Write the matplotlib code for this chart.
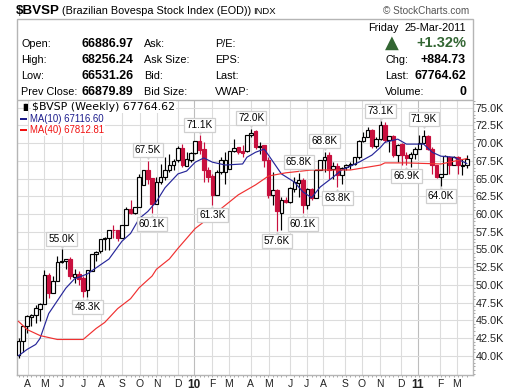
import matplotlib
matplotlib.use('Agg')
import matplotlib.pyplot as plt
from matplotlib.patches import Rectangle
from matplotlib.transforms import offset_copy

plt.rcParams['font.family'] = ['Liberation Sans', 'DejaVu Sans']

opens = [40.08,42.04,44.26,45.5,45.8,46.65,47.35,51.4,48.9,50.55,53.2,53.35,53.65,51.1,51.5,51.0,49.3,51.95,54.3,54.75,
         56.4,56.55,57.8,57.7,56.55,58.4,60.75,60.2,61.05,64.1,66.2,65.1,61.45,64.5,65.2,66.2,66.9,67.6,69.3,66.75,
         67.6,68.6,70.25,69.15,66.2,65.35,62.7,65.9,65.9,66.35,68.85,69.4,68.85,68.85,71.2,71.65,69.4,69.7,67.6,62.7,
         63.4,60.2,62.0,61.75,63.55,64.4,64.8,61.3,63.55,62.3,66.2,67.6,68.3,66.35,66.75,65.5,66.6,66.9,67.05,68.0,
         70.25,70.8,71.8,69.55,70.55,72.6,70.4,70.95,68.3,69.85,68.3,67.9,68.45,69.15,70.0,70.95,69.15,66.9,65.2,65.65,
         68.0,66.9,68.0,66.75,66.89]
closes = [42.04,44.26,45.67,45.8,46.8,47.35,51.4,48.9,50.55,53.2,53.35,53.65,51.25,51.5,50.85,49.15,52.1,54.3,54.6,56.4,
          56.55,57.8,57.7,56.55,58.4,60.75,60.2,61.05,65.2,66.2,64.95,61.45,64.5,65.2,66.2,66.9,67.45,69.3,66.9,67.75,
          68.6,70.25,69.0,66.2,65.2,62.7,65.9,67.6,67.6,68.85,69.3,68.7,68.6,71.2,71.35,69.4,69.55,67.6,62.7,63.4,
          60.35,62.0,61.75,63.7,64.5,64.8,61.3,63.55,62.3,66.2,67.6,68.0,66.2,66.75,65.5,66.5,66.9,67.05,68.0,70.25,
          70.8,71.8,69.55,70.55,72.5,70.4,70.95,68.3,69.7,68.3,67.9,68.45,69.15,70.0,70.95,69.15,66.9,65.2,65.65,68.15,
          66.9,68.0,66.9,66.9,67.76]
highs = [42.46,44.26,45.7,45.95,47.1,47.5,52.1,51.7,51.25,54.05,55.0,53.65,53.9,52.2,51.9,51.25,52.1,54.3,54.75,56.4,
         56.7,57.8,58.5,57.8,58.4,61.05,62.0,61.05,65.65,66.2,67.5,65.1,65.2,67.05,68.0,68.4,67.75,69.55,69.85,68.7,
         68.7,70.25,71.1,70.1,66.6,65.65,66.2,68.0,68.7,68.85,70.55,69.4,69.7,71.2,72.0,71.9,70.1,69.7,68.0,65.9,
         63.55,62.45,62.45,63.85,65.2,65.8,65.1,63.7,63.7,66.2,67.6,68.8,68.7,67.3,67.2,66.6,67.05,67.3,68.0,70.4,
         71.5,72.2,72.05,70.8,73.1,72.9,70.95,71.1,69.85,70.0,68.7,68.7,69.4,71.2,71.9,71.2,69.4,66.9,65.65,68.3,
         68.15,68.15,68.15,67.75,68.26]
lows = [39.66,40.5,43.28,44.26,44.56,44.85,47.35,48.2,48.9,50.55,53.05,52.2,50.85,50.3,50.0,48.3,48.3,51.95,53.35,54.45,
        54.9,54.9,56.55,56.15,56.55,58.4,60.05,60.05,61.05,64.1,64.25,60.1,61.45,64.25,64.8,65.9,66.2,67.3,66.6,66.75,
        67.3,68.45,68.45,64.55,64.55,61.3,62.7,65.65,64.25,66.35,68.7,68.45,68.0,68.7,70.8,69.15,68.45,66.6,62.3,61.3,
        57.6,57.8,61.6,61.6,63.1,62.45,60.1,60.75,62.0,62.3,66.2,65.9,64.95,64.95,63.8,64.25,66.2,66.35,66.9,67.75,
        70.1,70.8,69.3,69.3,70.4,70.1,68.7,68.0,67.3,66.9,66.9,66.6,67.75,69.15,70.0,69.0,65.65,65.1,64.0,65.65,
        65.65,66.9,65.65,65.5,66.53]

ma10_weeks = [0,2,4,5,7,11,13,16,18,21,24,26,28,30,32,34,37,39,41,43,45,48,52,53,55,57,58,61,64,66,68,70,73,75,79,82,84,85,88,90,94,96,98,101,104]
ma10_vals = [40.0,40.9,41.6,42.45,45.95,49.55,50.85,51.55,52.4,53.65,56.15,57.25,59.35,60.35,61.75,63.7,65.65,66.05,67.3,67.9,67.3,66.9,67.05,68.0,68.7,69.15,68.3,65.65,64.5,63.1,62.3,63.8,65.2,66.2,67.3,68.3,69.4,70.1,70.55,69.85,69.85,68.7,68.15,68.0,67.12]
ma40_weeks = [0,2,5,9,15,18,20,23,26,28,31,32,35,37,41,47,51,55,58,62,68,73,77,84,85,90,98,104]
ma40_vals = [44.85,43.7,42.85,42.3,42.3,43.85,44.7,46.65,48.05,49.6,51.25,52.2,53.65,55.15,57.95,60.75,62.7,64.1,65.35,65.8,66.2,66.2,66.2,66.9,67.2,67.2,67.05,67.81]

month_pos = [2.09,6.03,9.98,15.08,19.14,24.0,28.1,32.1,37.0,40.7,44.9,48.8,53.9,58.1,63.0,66.9,70.7,75.8,79.7,83.9,88.8,92.7,97.8,101.7]
month_labels = ['A','M','J','J','A','S','O','N','D','10','F','M','A','M','J','J','A','S','O','N','D','11','F','M']
price_ticks = [40+2.5*k for k in range(15)]

peak_weeks = [10,30,42,54,65,71,84,94]
peak_vals = [55.0,67.5,71.1,72.0,65.8,68.8,73.1,71.9]
trough_weeks = [16,31,45,60,66,74,90,98]
trough_vals = [48.3,60.1,61.3,57.6,60.1,63.8,66.9,64.0]

fig = plt.figure(figsize=(5.2,3.91), dpi=100, facecolor='white')
W,H = 520,391
def px(x,y): return x/W, 1-y/H
L,R,T,B = 16.5,472.5,100.5,374.5
ax = fig.add_axes([L/W, 1-B/H, (R-L)/W, (B-T)/H])
ax.set_xlim((L-18.5)/4.31,(R-18.5)/4.31)
ax.set_ylim(75-(B-105)/7.16, 75-(T-105)/7.16)

GRID='#dcdcdc'
ax.set_axisbelow(True)
for p,l in zip(month_pos,month_labels):
    ax.axvline(p,color='#bdbdbd' if l.isdigit() else GRID,lw=0.8,zorder=0)
for v in price_ticks:
    ax.axhline(v,color=GRID,lw=0.8,zorder=0)

RED='#c8103e'
BW=0.82
for i,(o,c,h,l) in enumerate(zip(opens,closes,highs,lows)):
    up = c>=o
    col = 'black' if up else RED
    ax.plot([i,i],[l,h],color=col,lw=0.85,solid_capstyle='butt',zorder=3)
    ax.add_patch(Rectangle((i-BW/2,min(o,c)),BW,abs(c-o),
                           facecolor='white' if up else RED,edgecolor=col,lw=0.85,zorder=4))
ax.plot(ma10_weeks,ma10_vals,color='#26269a',lw=0.85,zorder=5)
ax.plot(ma40_weeks,ma40_vals,color='#f03030',lw=0.85,zorder=5)

def tag(i,v,sign):
    ax.annotate(f'{v:.1f}K',xy=(i,v),xytext=(0,sign*10.5),textcoords=('offset pixels'),ha='center',va='center',
                fontsize=7.2,color='black',zorder=8,
                bbox=dict(boxstyle='square,pad=0.2',fc='white',ec='#cfcfcf',lw=0.9))
    tr = offset_copy(ax.transData,fig=fig,x=0,y=sign*4.5,units='dots')
    ax.plot([i],[v],marker='v' if sign>0 else '^',ms=5,mfc='white',mec='#cfcfcf',mew=0.7,transform=tr,zorder=7,clip_on=False)
for i,v in zip(peak_weeks,peak_vals): tag(i,v,1)
for i,v in zip(trough_weeks,trough_vals): tag(i,v,-1)

for s in ['top']: ax.spines[s].set_visible(False)
for s in ['left','bottom','right']:
    ax.spines[s].set_color('#b5b5b5'); ax.spines[s].set_linewidth(1.0)
ax.yaxis.tick_right()
ax.set_yticks(price_ticks)
ax.set_yticklabels([f'{v:.1f}K' for v in price_ticks],fontsize=7.8,color='#222222')
ax.tick_params(axis='y',length=0,pad=2.5)
ax.set_yticks([37.5+0.5*k for k in range(78)],minor=True)
ax.tick_params(axis='y',which='minor',length=1.5,color='#999999',width=0.6)
ax.set_xticks(month_pos)
ax.set_xticklabels(month_labels,fontsize=7.5,color='#222222')
for t,l in zip(ax.get_xticklabels(),month_labels):
    if l.isdigit(): t.set_fontweight('bold'); t.set_fontsize(8.5)
ax.tick_params(axis='x',length=0,pad=3)
ax.set_xticks(list(range(0,105)),minor=True)
ax.tick_params(axis='x',which='minor',length=1.5,color='#999999',width=0.6)

# header panel
fig.add_artist(Rectangle(px(L,100.5),(R-L)/W,81/H,transform=fig.transFigure,fc='none',ec='#b5b5b5',lw=1.0))
def txt(x,y,s,ha='left',size=7.8,weight='normal',color='black',**k):
    fig.text(*px(x,y),s,ha=ha,va='center',fontsize=size,fontweight=weight,color=color,**k)

txt(16,11,'$BVSP',size=9.6,weight='bold')
txt(62,11,'(Brazilian Bovespa Stock Index (EOD))',size=7.8)
txt(253,11,'INDX',size=6.8)
txt(383,11,'© StockCharts.com',size=7.2,color='#555555')
rows = [44,60,76,92]
for y,a,b,c,d in zip(rows,['Open:','High:','Low:','Prev Close:'],['66886.97','68256.24','66531.26','66879.89'],
                     ['Ask:','Ask Size:','Bid:','Bid Size:'],['P/E:','EPS:','Last:','VWAP:']):
    txt(21,y,a); txt(81,y,b,weight='bold',size=8.9); txt(144,y,c); txt(215,y,d)
txt(368,28,'Friday'); txt(466,28,'25-Mar-2011',ha='right')
fig.text(*px(392,43),'▲',ha='center',va='center',fontsize=13,color='#336633',family='DejaVu Sans')
txt(466,43,'+1.32%',ha='right',size=10.5,weight='bold',color='#336633')
for y,a,b in zip(rows[1:],['Chg:','Last:','Volume:'],['+884.73','67764.62','0']):
    txt(385,y,a); txt(466,y,b,ha='right',weight='bold',size=8.9)

# legend
WB = dict(fc='white',ec='none',pad=0.6)
fig.text(*px(32,107),'$BVSP (Weekly) 67764.62',ha='left',va='center',fontsize=7.9,family='DejaVu Sans',zorder=9,bbox=WB)
txt(20,107,'▐▌',size=5,color='black',family='DejaVu Sans')
txt(30,118.5,'MA(10) 67116.60',size=6.9,color='#1c1c8c',bbox=WB)
txt(30,130,'MA(40) 67812.81',size=6.9,color='#f01010',bbox=WB)
fig.add_artist(Rectangle(px(20,119.5),7/W,2/H,transform=fig.transFigure,fc='#1c1c8c',ec='none'))
fig.add_artist(Rectangle(px(20,131),7/W,2/H,transform=fig.transFigure,fc='#f01010',ec='none'))

fig.savefig('out.png',dpi=100)
